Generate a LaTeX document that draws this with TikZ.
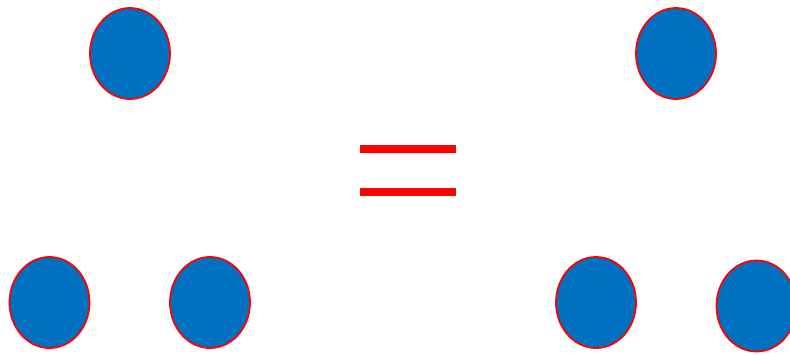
\documentclass[tikz,border=0pt]{standalone}
\usepackage{tikz}
\usetikzlibrary{shapes.geometric}
\definecolor{blobfill}{RGB}{0,112,192}
\definecolor{blobedge}{RGB}{255,0,0}
\tikzset{
  blob/.style={
    ellipse, draw=blobedge, fill=blobfill, line width=1.8pt,
    minimum width=80pt, minimum height=91pt, inner sep=0pt
  },
  eqbar/.style={fill=blobedge, draw=none}
}

\begin{document}
\begin{tikzpicture}[x=1pt,y=-1pt]
  \useasboundingbox (0,0) rectangle (790,354);
  % left group
  \node[blob] (ltop) at (130,53.5) {};
  \node[blob] (lbl) at (49.5,302.5) {};
  \node[blob] (lbr) at (210,302.5) {};
  % equals sign
  \fill[eqbar] (359.5,144.5) rectangle (456,152.5);
  \fill[eqbar] (359.5,187.5) rectangle (456,195.5);
  % right group
  \node[blob] (rtop) at (676,53.5) {};
  \node[blob] (rbl) at (596,302.5) {};
  \node[blob] (rbr) at (756.5,306) {};
\end{tikzpicture}
\end{document}
